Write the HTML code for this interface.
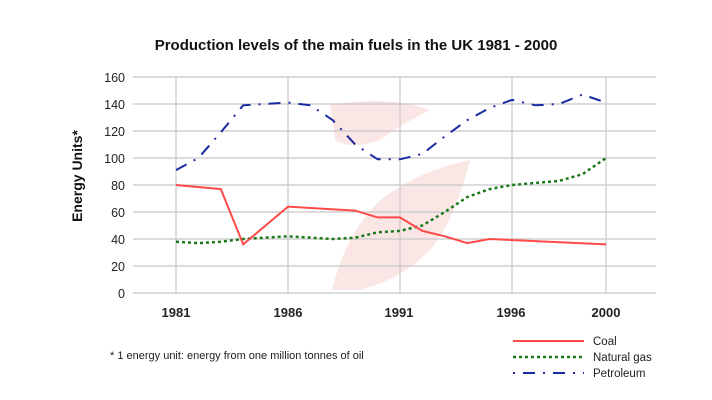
<!DOCTYPE html>
<html><head><style>body{margin:0;background:#fff}svg{display:block;font-family:"Liberation Sans",sans-serif}</style></head>
<body>
<svg id="s" width="712" height="400" viewBox="0 0 712 400">
<rect width="712" height="400" fill="#fff"/>
<path d="M330 105 Q390 95 430 110 Q400 125 380 140 Q350 150 335 140 Z" fill="#fbe6e6"/>
<path d="M470 160 Q420 170 380 200 Q345 235 332 290 L360 290 Q400 280 430 250 Q455 220 470 160 Z" fill="#fbe6e6"/>
<text x="356" y="50" text-anchor="middle" font-size="15" font-weight="bold" fill="#111">Production levels of the main fuels in the UK 1981 - 2000</text>
<text transform="translate(82,176) rotate(-90)" text-anchor="middle" font-size="14" font-weight="bold" fill="#111">Energy Units*</text>
<g id="grid" stroke="#c8c8c8" stroke-width="1.2"></g>
<g font-size="12.5" fill="#222" text-anchor="end">
<text x="125" y="82">160</text><text x="125" y="109">140</text><text x="125" y="136">120</text><text x="125" y="163">100</text><text x="125" y="190">80</text><text x="125" y="217">60</text><text x="125" y="244">40</text><text x="125" y="271">20</text><text x="125" y="298">0</text>
</g>
<g font-size="13" font-weight="bold" fill="#222" text-anchor="middle">
<text x="176" y="317">1981</text><text x="288" y="317">1986</text><text x="399" y="317">1991</text><text x="511" y="317">1996</text><text x="606" y="317">2000</text>
</g>
<polyline id="pet" fill="none" stroke="#1a2aa0" stroke-width="2" stroke-dasharray="12,8,2,8"/>
<polyline id="gas" fill="none" stroke="#1a7a1a" stroke-width="2.5" stroke-dasharray="3,3"/>
<polyline id="coal" fill="none" stroke="#ff4a4a" stroke-width="2"/>
<text x="110" y="359" font-size="11" fill="#222">* 1 energy unit: energy from one million tonnes of oil</text>
<line x1="513" y1="341" x2="584" y2="341" stroke="#ff4a4a" stroke-width="2"/>
<line x1="513" y1="357" x2="584" y2="357" stroke="#1a7a1a" stroke-width="2.5" stroke-dasharray="3,3"/>
<line x1="513" y1="373" x2="584" y2="373" stroke="#1a2aa0" stroke-width="2" stroke-dasharray="2,8,12,8"/>
<g font-size="11.5" fill="#222"><text x="593" y="345">Coal</text><text x="593" y="361">Natural gas</text><text x="593" y="377">Petroleum</text></g>
</svg>
<script>
function X(y){return y<=1996?176+(y-1981)*22.4:512+(y-1996)*23.5}
function Y(v){return 293-v*1.35}
var g=document.getElementById('grid'),h='';
for(var v=0;v<=160;v+=20)h+='<line x1="133" x2="656" y1="'+Y(v)+'" y2="'+Y(v)+'"/>';
[1981,1986,1991,1996,2000].forEach(function(y){h+='<line x1="'+X(y)+'" x2="'+X(y)+'" y1="77" y2="293"/>'});
g.innerHTML=h;
function P(id,d){var s=[];for(var i=0;i<d.length;i+=2)s.push(X(d[i]).toFixed(1)+','+Y(d[i+1]).toFixed(1));document.getElementById(id).setAttribute('points',s.join(' '))}
P('coal',[1981,80,1983,77,1984,36,1986,64,1989,61,1990,56,1991,56,1992,46,1993,42,1994,37,1995,40,2000,36]);
P('gas',[1981,38,1982,37,1983,38,1984,40,1986,42,1988,40,1989,41,1990,45,1991,46,1992,50,1993,60,1994,71,1995,77,1996,80,1998,83,1999,88,2000,100]);
P('pet',[1981,91,1982,100,1983,119,1984,139,1986,141,1987,139,1988,128,1989,110,1990,99,1991,99,1992,103,1993,116,1994,128,1995,137,1996,143,1997,139,1998,140,1999,147,2000,141]);
</script>
</body></html>
